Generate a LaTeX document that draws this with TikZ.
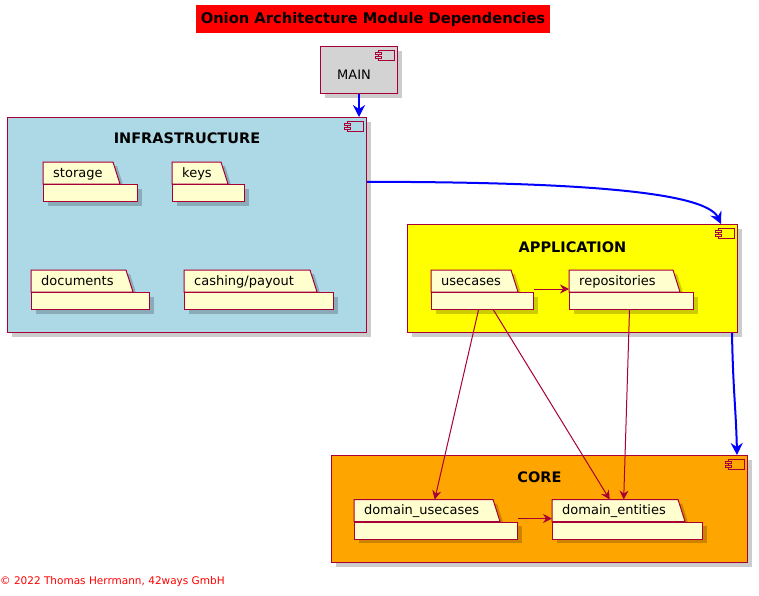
\documentclass[tikz,border=0pt]{standalone}
\usepackage{fontspec}
\setmainfont{DejaVu Sans}
\usetikzlibrary{arrows.meta,shadows,calc,positioning}

\definecolor{umlred}{HTML}{A80036}
\definecolor{pkgfill}{HTML}{FEFECE}
\definecolor{infrafill}{HTML}{ADD8E6}
\definecolor{appfill}{HTML}{FFFF00}
\definecolor{corefill}{HTML}{FFA500}
\definecolor{mainfill}{HTML}{D3D3D3}

\tikzset{
  umlline/.style={draw=umlred, line width=1pt},
  umlshadow/.style={drop shadow={shadow xshift=4pt, shadow yshift=-4pt, fill=black, opacity=0.2}},
  container/.style={umlline, umlshadow, rectangle, inner sep=0pt, anchor=north west},
  boxtitle/.style={font=\fontsize{14.5}{17}\selectfont\bfseries, inner sep=0pt},
  pkgtab/.style={rectangle, inner sep=0pt, inner xsep=10pt, minimum height=22pt, anchor=north west, font=\fontsize{13}{15}\selectfont, text height=8pt, text depth=0pt},
  pkgbody/.style={umlline, umlshadow, fill=pkgfill, rectangle, inner sep=0pt, minimum height=17pt, anchor=north west},
  dep/.style={umlred, line width=1pt, -{Stealth[length=9pt,width=9pt,inset=3pt]}},
  layerdep/.style={blue, line width=2pt, -{Stealth[length=12pt,width=12pt,inset=4pt]}}
}

% package: name, left, top, tab width, body width, label
\newcommand\pkgbox[6]{%
  \draw[umlline, umlshadow, fill=pkgfill] ({#2},{#3+22}) -- ({#2},{#3}) -- ({#2+#4},{#3}) -- ({#2+#4+7},{#3+22}) -- cycle;
  \node[pkgtab] (#1tab) at ({#2},{#3}) {\makebox[\dimexpr #4pt-20pt\relax][l]{#6}};
  \node[pkgbody, minimum width=#5pt] (#1) at ({#2},{#3+22}) {};
}
% component icon in the top right corner of a box
\newcommand\compicon[2]{%
  \draw[umlline, line width=0.8pt, fill=#2] ([shift={(-20pt,-4pt)}]#1.north east) rectangle ++(16,10);
  \draw[umlline, line width=0.8pt, fill=#2] ([shift={(-23pt,-6.5pt)}]#1.north east) rectangle ++(6,2);
  \draw[umlline, line width=0.8pt, fill=#2] ([shift={(-23pt,-10.5pt)}]#1.north east) rectangle ++(6,2);
}

\begin{document}
\begin{tikzpicture}[x=1pt, y=-1pt]
  \useasboundingbox (0,0) rectangle (759,595);

  \node[fill=red, minimum width=354pt, minimum height=28pt, font=\fontsize{14.7}{17}\selectfont\bfseries] (title) at (373,19) {Onion Architecture Module Dependencies};

  % main
  \node[container, fill=mainfill, minimum width=77pt, minimum height=47pt] (main) at (320,46) {};
  \node[font=\fontsize{13}{15}\selectfont, inner sep=0pt] (mainlabel) at ([xshift=-5pt, yshift=-4.5pt]main.center) {MAIN};
  \compicon{main}{mainfill}

  % infrastructure
  \node[container, fill=infrafill, minimum width=359pt, minimum height=215pt] (infra) at (7,117) {};
  \node[boxtitle] (infratitle) at ([yshift=-21pt]infra.north) {INFRASTRUCTURE};
  \compicon{infra}{infrafill}
  \pkgbox{storage}{43}{162}{70}{94}{storage}
  \pkgbox{keys}{172}{162}{49}{72}{keys}
  \pkgbox{docs}{31}{270}{95}{118}{documents}
  \pkgbox{cash}{184}{270}{126}{149}{cashing/payout}

  % application
  \node[container, fill=appfill, minimum width=330pt, minimum height=108pt] (app) at (407,224) {};
  \node[boxtitle] (apptitle) at ([yshift=-23pt]app.north) {APPLICATION};
  \compicon{app}{appfill}
  \pkgbox{uc}{431}{270}{80}{102}{usecases}
  \pkgbox{rep}{569}{270}{104}{124}{repositories}

  % core
  \node[container, fill=corefill, minimum width=416pt, minimum height=107pt] (core) at (331,455) {};
  \node[boxtitle] (coretitle) at ([yshift=-22pt]core.north) {CORE};
  \compicon{core}{corefill}
  \pkgbox{dus}{354}{499.5}{139}{163}{domain\_usecases}
  \pkgbox{dent}{552}{499.5}{126}{150}{domain\_entities}

  % dependencies
  \draw[dep] ([yshift=3pt]uc.north east) -- ([yshift=3pt]rep.north west);
  \draw[dep] ([xshift=-4pt]uc.south) -- ([xshift=11pt]dustab.north);
  \draw[dep] ([xshift=11pt]uc.south) -- ([xshift=-5.5pt]denttab.north);
  \draw[dep] ([xshift=-2pt]rep.south) -- ([xshift=8.5pt]denttab.north);
  \draw[dep] ([yshift=3pt]dus.north east) -- ([yshift=3pt]dent.north west);

  \draw[layerdep] (main) -- (main.south |- infra.north);
  \draw[layerdep] ($(infra.north east)!0.3!(infra.south east)$) .. controls (560,182) and (705,190) .. ([xshift=-17pt]app.north east);
  \draw[layerdep] ([xshift=-6pt]app.south east) .. controls (733,390) and (736,410) .. ([xshift=-11pt]core.north east);

  \node[font=\fontsize{10.5}{12}\selectfont, text=red, anchor=west, inner sep=0pt] (copyright) at (0,582) {© 2022 Thomas Herrmann, 42ways GmbH};
\end{tikzpicture}
\end{document}
